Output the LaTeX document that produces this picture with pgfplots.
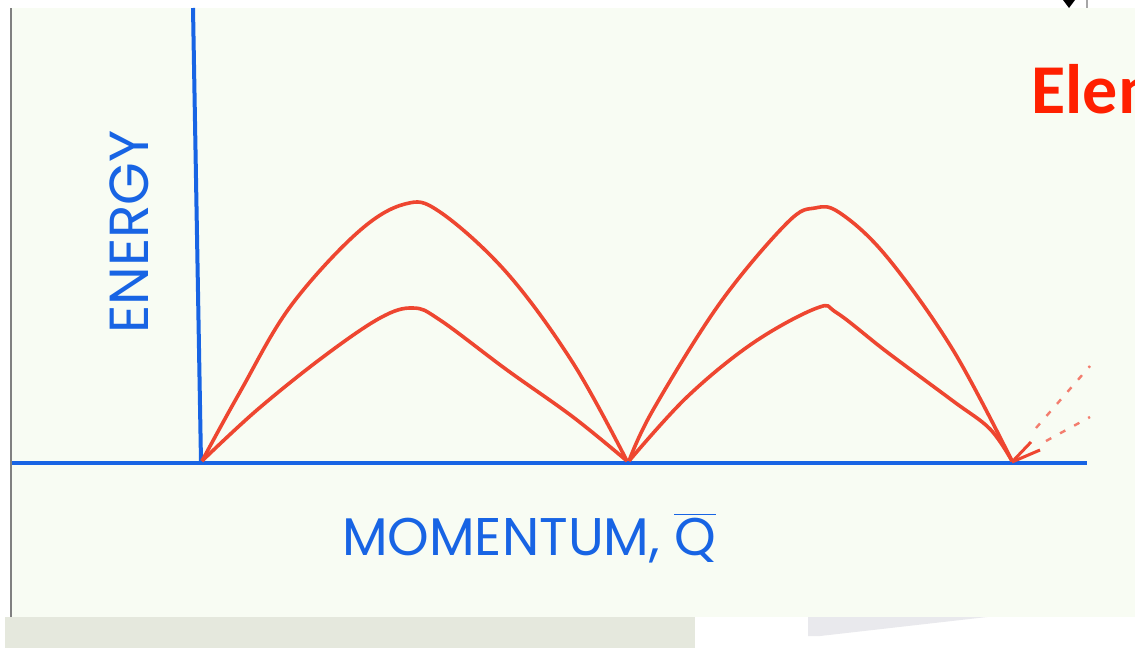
\documentclass[border=0pt]{standalone}
\usepackage{pgfplots}
\pgfplotsset{compat=1.18}
\usepackage{fontspec}
\setmainfont{Poppins}
\newfontfamily\titlefont{Carlito}
\definecolor{paper}{RGB}{248,252,243}
\definecolor{ink}{RGB}{24,100,228}
\definecolor{chalk}{RGB}{238,70,48}
\definecolor{titlered}{RGB}{255,32,0}
\definecolor{shelf}{RGB}{229,232,221}
\definecolor{wedgegray}{RGB}{233,233,237}
\begin{document}
\begin{tikzpicture}
\begin{axis}[
  width=567.5pt, height=324pt, scale only axis,
  xmin=0, xmax=1135, ymin=0, ymax=648,
  y dir=reverse, hide axis, clip=false]
  % sheet and surroundings
  \fill[white] (axis cs:0,0) rectangle (axis cs:1135,648);
  \fill[paper] (axis cs:11,8) rectangle (axis cs:1135,617);
  \fill[shelf] (axis cs:5,617) rectangle (axis cs:695,648);
  \fill[wedgegray] (axis cs:808,617) -- (axis cs:987,617) -- (axis cs:820,636) -- (axis cs:808,636) -- cycle;
  \draw[gray, line width=0.8pt] (axis cs:11,8) -- (axis cs:11,617);
  \fill[black] (axis cs:1063,0) -- (axis cs:1075,0) -- (axis cs:1069,8) -- cycle;
  \draw[gray!70, line width=0.6pt] (axis cs:1087,0) -- (axis cs:1087,8);
  % axes
  \addplot[ink, line width=2pt] coordinates {(193,8) (201,462)};
  \addplot[ink, line width=2pt] coordinates {(12,463) (1087,463)};
  % upper branch
  \addplot[chalk, line width=1.8pt, smooth, tension=0.6] coordinates {
    (202,461) (240,392) (290,307) (357,233) (405,204) (440,212) (507,273) (573,363) (627,461)};
  \addplot[chalk, line width=1.8pt, smooth, tension=0.6] coordinates {
    (629,461) (653,410) (720,303) (787,223) (815,208) (840,213) (887,257) (953,350) (1012,461)};
  % lower branch
  \addplot[chalk, line width=1.8pt, smooth, tension=0.6] coordinates {
    (202,461) (257,410) (323,357) (380,318) (413,308) (440,320) (507,370) (573,417) (627,461)};
  \addplot[chalk, line width=1.8pt, smooth, tension=0.6] coordinates {
    (629,461) (687,397) (753,343) (817,308) (837,313) (887,352) (953,401) (990,429) (1012,461)};
  % continuation beyond the second zone
  \addplot[chalk, line width=1.5pt] coordinates {(1012,462) (1031,442)};
  \addplot[chalk, line width=1.5pt] coordinates {(1012,462) (1040,450)};
  \addplot[chalk!70, line width=1.2pt, dash pattern=on 3pt off 5pt] coordinates {(1036,428) (1090,366)};
  \addplot[chalk!70, line width=1.2pt, dash pattern=on 3pt off 5pt] coordinates {(1046,441) (1090,417)};
  % labels
  \node[ink, rotate=90, font=\fontsize{27.5}{27.5}\selectfont, inner sep=0pt] at (axis cs:129,232) {ENERGY};
  \node[ink, anchor=base, font=\fontsize{26.5}{26.5}\selectfont, inner sep=0pt] at (axis cs:529,555)
    {MOMENTUM, \ensuremath{\overline{\mbox{Q}}}};
  \node[titlered, anchor=base west, inner sep=0pt,
        font=\titlefont\bfseries\fontsize{35}{35}\selectfont] at (axis cs:1031,113) {Elementary};
\end{axis}
\pgfresetboundingbox
\path (current axis.south west) rectangle (current axis.north east);
\end{tikzpicture}
\end{document}
